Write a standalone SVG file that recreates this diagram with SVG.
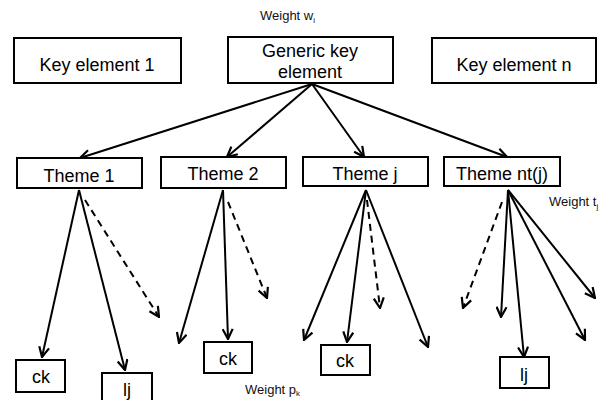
<svg xmlns="http://www.w3.org/2000/svg" width="603" height="400" viewBox="0 0 603 400">
<style>
.box{fill:#fff;stroke:#000;stroke-width:2}
.lbl{font-family:"Liberation Sans",Arial,sans-serif;font-size:18px;fill:#000;text-anchor:middle}
.w{font-family:"Liberation Sans",Arial,sans-serif;font-size:13px;fill:#111}
.sub{font-size:8px}
.c{stroke:#000;stroke-width:2;fill:none;marker-end:url(#ah)}
.d{stroke-dasharray:7,5}
</style>
<defs>
<marker id="ah" viewBox="0 0 12 12" refX="11" refY="6" markerWidth="6" markerHeight="6" orient="auto" markerUnits="strokeWidth">
<path d="M1,1 L11,6 L1,11" fill="none" stroke="#000" stroke-width="2.2" stroke-linejoin="miter"/>
</marker>
</defs>
<rect width="603" height="400" fill="#fff"/>
<g id="connectors">
<line class="c" x1="312" y1="84" x2="80" y2="158"/>
<line class="c" x1="312" y1="84" x2="227" y2="157"/>
<line class="c" x1="312" y1="84" x2="364" y2="157"/>
<line class="c" x1="312" y1="84" x2="507" y2="157"/>
<line class="c" x1="79" y1="190" x2="42" y2="357"/>
<line class="c" x1="79" y1="190" x2="125" y2="370"/>
<line class="c d" x1="85" y1="200" x2="159" y2="317"/>
<line class="c" x1="223" y1="190" x2="179" y2="343"/>
<line class="c" x1="223" y1="190" x2="228" y2="339"/>
<line class="c d" x1="228" y1="202" x2="267" y2="298"/>
<line class="c" x1="366" y1="190" x2="304" y2="340"/>
<line class="c" x1="366" y1="190" x2="347" y2="342"/>
<line class="c d" x1="367" y1="200" x2="380" y2="308"/>
<line class="c" x1="366" y1="190" x2="428" y2="347"/>
<line class="c d" x1="502" y1="202" x2="463" y2="308"/>
<line class="c" x1="508" y1="190" x2="501" y2="317"/>
<line class="c" x1="508" y1="190" x2="524" y2="357"/>
<line class="c" x1="508" y1="190" x2="585" y2="340"/>
<line class="c" x1="508" y1="190" x2="595" y2="298"/>
</g>
<g id="key1"><rect class="box" x="14" y="38" width="167" height="45"/><text class="lbl" x="97" y="71">Key element 1</text></g>
<g id="generic"><rect class="box" x="228" y="37" width="165" height="46"/><text class="lbl" x="310" y="57">Generic key</text><text class="lbl" x="310" y="78">element</text></g>
<g id="keyn"><rect class="box" x="432" y="38" width="164" height="45"/><text class="lbl" x="514" y="71">Key element n</text></g>
<g id="theme1"><rect class="box" x="17" y="158" width="125" height="30"/><text class="lbl" x="79" y="182">Theme 1</text></g>
<g id="theme2"><rect class="box" x="161" y="157" width="125" height="31"/><text class="lbl" x="223" y="180">Theme 2</text></g>
<g id="themej"><rect class="box" x="303" y="157" width="125" height="29"/><text class="lbl" x="365" y="180">Theme j</text></g>
<g id="thement"><rect class="box" x="444" y="157" width="116" height="29"/><text class="lbl" x="502" y="180">Theme nt(j)</text></g>
<g id="ck1"><rect class="box" x="16" y="360" width="49" height="32"/><text class="lbl" x="41" y="383">ck</text></g>
<g id="lj1"><rect class="box" x="102" y="373" width="50" height="30"/><text class="lbl" x="127" y="396">lj</text></g>
<g id="ck2"><rect class="box" x="204" y="342" width="48" height="31"/><text class="lbl" x="228" y="365">ck</text></g>
<g id="ck3"><rect class="box" x="321" y="345" width="49" height="30"/><text class="lbl" x="345" y="367">ck</text></g>
<g id="lj4"><rect class="box" x="500" y="357" width="49" height="31"/><text class="lbl" x="524" y="381">lj</text></g>
<text class="w" x="260" y="20">Weight w<tspan class="sub" dy="3">i</tspan></text>
<text class="w" x="549" y="206">Weight t<tspan class="sub" dy="3">j</tspan></text>
<text class="w" x="245" y="394">Weight p<tspan class="sub" dy="2">k</tspan></text>
</svg>
